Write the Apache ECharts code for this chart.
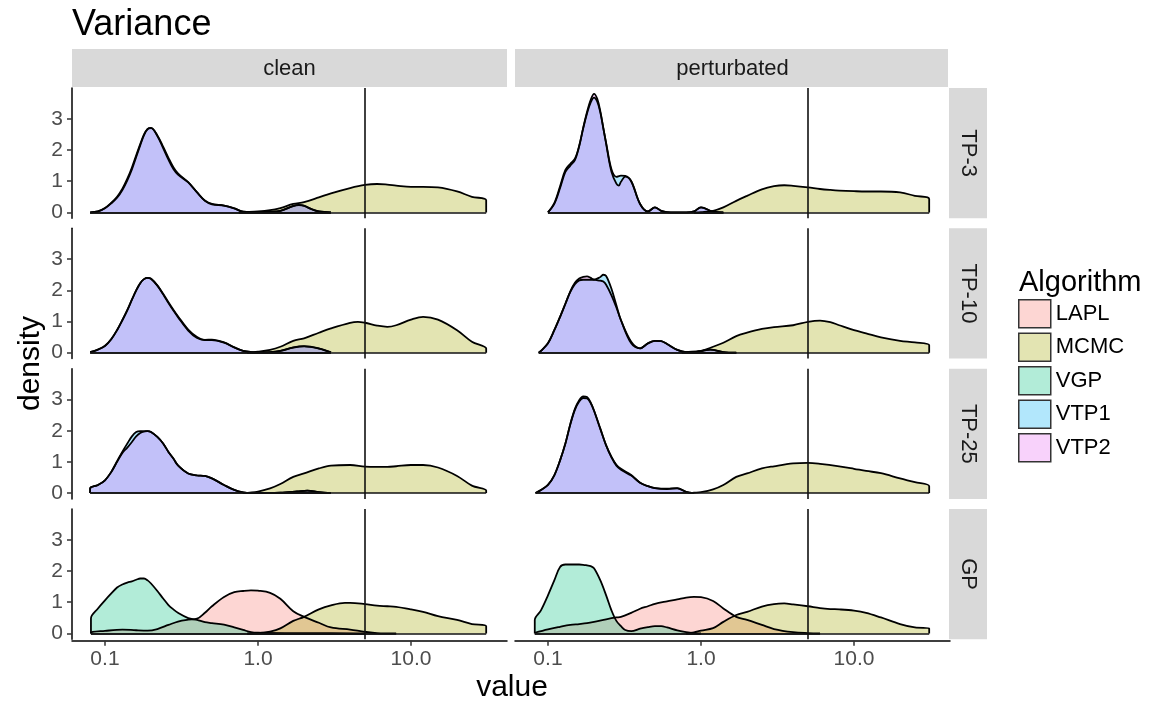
<!DOCTYPE html>
<html><head><meta charset="utf-8">
<script src="https://cdn.jsdelivr.net/npm/echarts@6/dist/echarts.min.js"></script>
<style>html,body{margin:0;padding:0;background:#fff}#c{width:1157px;height:706px}</style>
</head><body><div id="c"></div>
<script>
// ---------------- data ----------------
const rows = ['TP-3', 'TP-10', 'TP-25', 'GP'];
const cols = ['clean', 'perturbated'];
const algorithms = ['LAPL', 'MCMC', 'VGP', 'VTP1', 'VTP2'];
const algColors = { LAPL: '#F8766D', MCMC: '#A3A500', VGP: '#00BF7D', VTP1: '#00B0F6', VTP2: '#E76BF3' };
const xTicks = [0.1, 1, 10];
const yTicks = [0, 1, 2, 3];
const trueVariance = 5;

// TP-3
const TP3_clean_MCMC = [[0.75,0],[0.8,0.01],[1,0.03],[1.2,0.07],[1.4,0.14],[1.7,0.27],[2,0.33],[2.5,0.48],[3,0.61],[4,0.78],[5,0.88],[6,0.91],[7,0.89],[8,0.86],[10,0.82],[12,0.82],[15,0.80],[20,0.67],[25,0.50],[31,0.39]];
const TP3_clean_VTP1 = [[0.08,0],[0.09,0.03],[0.1,0.13],[0.11,0.29],[0.12,0.47],[0.13,0.72],[0.14,1.03],[0.15,1.38],[0.16,1.78],[0.17,2.15],[0.18,2.48],[0.19,2.67],[0.2,2.70],[0.22,2.47],[0.24,2.11],[0.26,1.75],[0.28,1.45],[0.3,1.25],[0.35,0.97],[0.4,0.64],[0.45,0.37],[0.5,0.26],[0.6,0.22],[0.7,0.13],[0.8,0.02],[0.9,0.01],[1,0.01],[1.2,0.02],[1.4,0.05],[1.7,0.21],[1.85,0.24],[2,0.22],[2.2,0.12],[2.5,0.03],[3,0]];
const TP3_clean_VTP2 = [[0.08,0],[0.09,0.03],[0.1,0.14],[0.11,0.31],[0.12,0.50],[0.13,0.76],[0.14,1.08],[0.15,1.44],[0.16,1.83],[0.17,2.19],[0.18,2.50],[0.19,2.68],[0.2,2.71],[0.22,2.45],[0.24,2.06],[0.26,1.69],[0.28,1.39],[0.3,1.21],[0.35,0.96],[0.4,0.64],[0.45,0.38],[0.5,0.27],[0.6,0.22],[0.7,0.13],[0.8,0.02],[0.9,0.01],[1,0.01],[1.2,0.02],[1.4,0.05],[1.7,0.20],[1.85,0.23],[2,0.21],[2.2,0.12],[2.5,0.03],[3,0]];
const TP3_pert_MCMC = [[0.9,0],[1,0.01],[1.2,0.05],[1.4,0.16],[1.7,0.37],[2,0.53],[2.5,0.74],[3,0.84],[3.5,0.87],[4,0.85],[5,0.80],[6,0.75],[7,0.72],[8,0.70],[10,0.68],[12,0.67],[15,0.67],[20,0.64],[25,0.53],[31,0.43]];
const TP3_pert_VTP1 = [[0.1,0],[0.11,0.27],[0.12,0.78],[0.13,1.30],[0.14,1.50],[0.15,1.68],[0.16,2.12],[0.17,2.70],[0.18,3.17],[0.19,3.52],[0.2,3.68],[0.21,3.55],[0.22,3.20],[0.23,2.70],[0.24,2.23],[0.26,1.38],[0.28,1.14],[0.3,1.18],[0.32,1.17],[0.35,1.0],[0.4,0.27],[0.45,0.03],[0.5,0.16],[0.55,0.05],[0.6,0.01],[0.8,0],[0.9,0.03],[1,0.16],[1.2,0.02],[1.4,0]];
const TP3_pert_VTP2 = [[0.1,0],[0.11,0.30],[0.12,0.84],[0.13,1.36],[0.14,1.56],[0.15,1.72],[0.16,2.14],[0.17,2.72],[0.18,3.22],[0.19,3.60],[0.2,3.80],[0.21,3.64],[0.22,3.24],[0.23,2.71],[0.24,2.20],[0.26,1.30],[0.28,0.92],[0.29,0.86],[0.3,0.98],[0.32,1.15],[0.35,1.0],[0.4,0.27],[0.45,0.03],[0.5,0.16],[0.55,0.05],[0.6,0.01],[0.8,0],[0.9,0.03],[1,0.16],[1.2,0.02],[1.4,0]];

// TP-10
const TP10_clean_MCMC = [[0.85,0],[1,0.03],[1.2,0.09],[1.4,0.19],[1.7,0.38],[2,0.46],[2.5,0.64],[3,0.78],[4,0.96],[4.5,0.99],[5,0.96],[6,0.87],[7,0.83],[8,0.88],[10,1.06],[12,1.15],[15,1.06],[20,0.72],[25,0.35],[31,0.13]];
const TP10_clean_VTP1 = [[0.08,0.02],[0.09,0.1],[0.1,0.21],[0.11,0.43],[0.12,0.72],[0.13,1.04],[0.14,1.36],[0.15,1.70],[0.16,2.0],[0.17,2.23],[0.18,2.36],[0.19,2.40],[0.2,2.37],[0.22,2.16],[0.24,1.89],[0.26,1.62],[0.28,1.38],[0.3,1.17],[0.35,0.74],[0.4,0.50],[0.45,0.40],[0.5,0.40],[0.6,0.32],[0.7,0.17],[0.8,0.06],[0.9,0.02],[1,0.01],[1.2,0.02],[1.4,0.06],[1.7,0.17],[2,0.21],[2.5,0.14],[3,0.01]];
const TP10_clean_VTP2 = [[0.08,0.02],[0.09,0.1],[0.1,0.22],[0.11,0.44],[0.12,0.73],[0.13,1.05],[0.14,1.37],[0.15,1.70],[0.16,2.0],[0.17,2.23],[0.18,2.36],[0.19,2.40],[0.2,2.37],[0.22,2.15],[0.24,1.87],[0.26,1.59],[0.28,1.35],[0.3,1.14],[0.35,0.71],[0.4,0.47],[0.45,0.41],[0.5,0.42],[0.6,0.33],[0.7,0.17],[0.8,0.06],[0.9,0.02],[1,0.01],[1.2,0.02],[1.4,0.06],[1.7,0.16],[2,0.20],[2.5,0.13],[3,0.01]];
const TP10_pert_MCMC = [[0.75,0],[0.8,0.02],[1,0.06],[1.2,0.19],[1.4,0.32],[1.7,0.53],[2,0.64],[2.5,0.76],[3,0.82],[4,0.88],[5,0.99],[6,1.03],[7,0.98],[8,0.88],[10,0.72],[12,0.62],[15,0.49],[20,0.38],[25,0.33],[31,0.24]];
const TP10_pert_VTP1 = [[0.087,0],[0.09,0.06],[0.1,0.30],[0.11,0.72],[0.12,1.15],[0.13,1.57],[0.14,1.95],[0.15,2.20],[0.16,2.32],[0.17,2.34],[0.18,2.34],[0.2,2.34],[0.22,2.43],[0.23,2.50],[0.24,2.46],[0.26,2.05],[0.28,1.52],[0.3,1.04],[0.35,0.35],[0.4,0.14],[0.45,0.30],[0.5,0.38],[0.55,0.37],[0.6,0.28],[0.7,0.09],[0.8,0.02],[0.9,0.02],[1,0.05],[1.15,0.10],[1.4,0.02],[1.7,0]];
const TP10_pert_VTP2 = [[0.087,0],[0.09,0.06],[0.1,0.30],[0.11,0.72],[0.12,1.15],[0.13,1.57],[0.14,1.97],[0.15,2.24],[0.16,2.38],[0.17,2.43],[0.18,2.45],[0.19,2.40],[0.2,2.34],[0.22,2.31],[0.23,2.28],[0.24,2.18],[0.26,1.84],[0.28,1.45],[0.3,1.04],[0.35,0.30],[0.4,0.14],[0.45,0.30],[0.5,0.38],[0.55,0.37],[0.6,0.28],[0.7,0.09],[0.8,0.02],[0.9,0.02],[1,0.05],[1.15,0.10],[1.4,0.02],[1.7,0]];

// TP-25
const TP25_clean_MCMC = [[0.8,0],[1,0.05],[1.2,0.15],[1.4,0.29],[1.7,0.52],[2,0.63],[2.5,0.79],[3,0.88],[4,0.90],[5,0.85],[6,0.84],[7,0.84],[8,0.86],[10,0.90],[12,0.90],[15,0.82],[20,0.55],[25,0.24],[31,0.08]];
const TP25_clean_VTP1 = [[0.08,0.15],[0.09,0.26],[0.1,0.41],[0.11,0.68],[0.12,1.02],[0.13,1.33],[0.14,1.59],[0.15,1.82],[0.16,1.96],[0.17,1.99],[0.18,1.98],[0.19,1.99],[0.2,1.96],[0.22,1.80],[0.24,1.59],[0.26,1.32],[0.28,1.11],[0.3,0.89],[0.35,0.63],[0.4,0.57],[0.45,0.55],[0.5,0.47],[0.6,0.26],[0.7,0.10],[0.8,0.02],[0.9,0],[1.4,0.01],[1.8,0.05],[2.1,0.08],[2.5,0.03],[3,0]];
const TP25_clean_VTP2 = [[0.08,0.15],[0.09,0.26],[0.1,0.41],[0.11,0.68],[0.12,1.0],[0.13,1.29],[0.14,1.46],[0.15,1.64],[0.16,1.82],[0.17,1.93],[0.18,1.98],[0.19,1.99],[0.2,1.96],[0.22,1.80],[0.24,1.59],[0.26,1.32],[0.28,1.11],[0.3,0.89],[0.35,0.63],[0.4,0.57],[0.45,0.55],[0.5,0.47],[0.6,0.26],[0.7,0.10],[0.8,0.02],[0.9,0],[1.4,0.01],[1.8,0.05],[2.1,0.08],[2.5,0.03],[3,0]];
const TP25_pert_MCMC = [[0.85,0],[0.9,0.01],[1,0.03],[1.2,0.12],[1.4,0.26],[1.7,0.52],[2,0.63],[2.5,0.79],[3,0.86],[4,0.95],[5,0.97],[6,0.94],[8,0.86],[10,0.78],[12,0.71],[15,0.64],[20,0.47],[25,0.35],[31,0.22]];
const TP25_pert_VTP1 = [[0.083,0],[0.09,0.10],[0.1,0.26],[0.11,0.57],[0.12,1.05],[0.13,1.59],[0.14,2.22],[0.15,2.70],[0.16,2.98],[0.17,3.10],[0.18,3.08],[0.19,2.91],[0.2,2.65],[0.22,2.06],[0.24,1.53],[0.26,1.16],[0.28,0.91],[0.3,0.78],[0.35,0.58],[0.4,0.33],[0.45,0.22],[0.5,0.16],[0.6,0.13],[0.7,0.15],[0.8,0.04],[0.9,0]];
const TP25_pert_VTP2 = [[0.083,0],[0.09,0.10],[0.1,0.26],[0.11,0.57],[0.12,1.05],[0.13,1.59],[0.14,2.20],[0.15,2.67],[0.16,2.94],[0.17,3.05],[0.18,3.04],[0.19,2.89],[0.2,2.64],[0.22,2.06],[0.24,1.53],[0.26,1.15],[0.28,0.88],[0.3,0.75],[0.35,0.56],[0.4,0.33],[0.45,0.22],[0.5,0.16],[0.6,0.14],[0.7,0.16],[0.8,0.04],[0.9,0]];

// GP
const GP_clean_LAPL = [[0.081,0.03],[0.1,0.08],[0.13,0.12],[0.16,0.10],[0.19,0.09],[0.22,0.14],[0.26,0.27],[0.3,0.38],[0.35,0.44],[0.4,0.47],[0.45,0.66],[0.5,0.87],[0.6,1.17],[0.7,1.32],[0.8,1.36],[0.9,1.38],[1,1.37],[1.2,1.30],[1.4,1.11],[1.7,0.71],[2,0.53],[2.5,0.34],[3,0.19],[4,0.12],[5,0.05],[6,0.01],[8,0]];
const GP_clean_MCMC = [[0.85,0],[1,0.01],[1.2,0.06],[1.4,0.16],[1.7,0.40],[2,0.53],[2.5,0.77],[3,0.90],[3.7,0.98],[4,0.98],[5,0.94],[6,0.89],[7,0.87],[8,0.85],[10,0.77],[12,0.69],[15,0.55],[20,0.43],[25,0.30],[31,0.23]];
const GP_clean_VGP = [[0.081,0.48],[0.09,0.80],[0.1,1.06],[0.11,1.28],[0.12,1.47],[0.13,1.57],[0.14,1.63],[0.15,1.67],[0.16,1.72],[0.17,1.76],[0.18,1.76],[0.19,1.70],[0.2,1.60],[0.22,1.36],[0.24,1.12],[0.26,0.91],[0.28,0.77],[0.3,0.66],[0.35,0.49],[0.4,0.43],[0.45,0.36],[0.5,0.33],[0.6,0.28],[0.7,0.19],[0.8,0.11],[0.9,0.04],[1,0.02],[1.5,0.01],[3,0.01],[5,0]];
const GP_pert_LAPL = [[0.082,0.02],[0.1,0.13],[0.12,0.21],[0.14,0.27],[0.16,0.30],[0.18,0.33],[0.2,0.37],[0.24,0.45],[0.28,0.51],[0.3,0.53],[0.35,0.66],[0.4,0.79],[0.45,0.87],[0.5,0.95],[0.6,1.03],[0.7,1.09],[0.8,1.15],[0.9,1.17],[1,1.16],[1.2,1.04],[1.4,0.80],[1.7,0.53],[2,0.43],[2.5,0.27],[3,0.14],[4,0.04],[5,0.01],[6,0]];
const GP_pert_MCMC = [[0.8,0],[0.9,0.03],[1,0.09],[1.2,0.17],[1.4,0.37],[1.7,0.59],[2,0.69],[2.5,0.86],[3,0.94],[3.5,0.96],[4,0.93],[5,0.87],[6,0.81],[7,0.78],[8,0.77],[10,0.73],[12,0.66],[15,0.51],[20,0.30],[25,0.19],[31,0.16]];
const GP_pert_VGP = [[0.082,0.43],[0.09,0.74],[0.1,1.22],[0.11,1.70],[0.12,2.13],[0.13,2.21],[0.14,2.21],[0.15,2.21],[0.16,2.21],[0.17,2.20],[0.18,2.18],[0.19,2.16],[0.2,2.09],[0.22,1.70],[0.24,1.22],[0.26,0.74],[0.28,0.40],[0.3,0.23],[0.32,0.11],[0.35,0.07],[0.4,0.15],[0.45,0.20],[0.5,0.23],[0.55,0.23],[0.6,0.19],[0.7,0.10],[0.8,0.04],[0.9,0.01],[1,0]];

// table the library needs: panel -> algorithm -> series
const panelData = {
  'TP-3':  { clean: { MCMC: TP3_clean_MCMC, VTP1: TP3_clean_VTP1, VTP2: TP3_clean_VTP2 },
             perturbated: { MCMC: TP3_pert_MCMC, VTP1: TP3_pert_VTP1, VTP2: TP3_pert_VTP2 } },
  'TP-10': { clean: { MCMC: TP10_clean_MCMC, VTP1: TP10_clean_VTP1, VTP2: TP10_clean_VTP2 },
             perturbated: { MCMC: TP10_pert_MCMC, VTP1: TP10_pert_VTP1, VTP2: TP10_pert_VTP2 } },
  'TP-25': { clean: { MCMC: TP25_clean_MCMC, VTP1: TP25_clean_VTP1, VTP2: TP25_clean_VTP2 },
             perturbated: { MCMC: TP25_pert_MCMC, VTP1: TP25_pert_VTP1, VTP2: TP25_pert_VTP2 } },
  'GP':    { clean: { LAPL: GP_clean_LAPL, MCMC: GP_clean_MCMC, VGP: GP_clean_VGP },
             perturbated: { LAPL: GP_pert_LAPL, MCMC: GP_pert_MCMC, VGP: GP_pert_VGP } }
};

// ---------------- layout & style ----------------
const FONT = '"Liberation Sans", Arial, Helvetica, sans-serif';
const colLeft = [72, 515];
const panelW = 435;
const rowTop = [88, 228.3, 368.7, 509];
const panelH = 130.3;
const xMin = 0.0609, xMax = 42.4;
const yMin = -0.19, yMax = 3.99;
const ALPHA = 0.3;

function rgba(hex, a) {
  const n = parseInt(hex.slice(1), 16);
  return 'rgba(' + ((n >> 16) & 255) + ',' + ((n >> 8) & 255) + ',' + (n & 255) + ',' + a + ')';
}

const grids = [], xAxes = [], yAxes = [], series = [], graphics = [];

rows.forEach((rowName, r) => {
  cols.forEach((colName, c) => {
    const k = grids.length;
    grids.push({ left: colLeft[c], top: rowTop[r], width: panelW, height: panelH, containLabel: false });
    xAxes.push({
      type: 'log', logBase: 10, gridIndex: k, min: xMin, max: xMax,
      show: r === rows.length - 1, offset: 1.5,
      axisLine: { show: true, onZero: false, lineStyle: { color: '#000', width: 1.5 } },
      axisTick: { show: true, customValues: xTicks, length: 5, lineStyle: { color: '#333', width: 1.5 } },
      axisLabel: { show: true, customValues: xTicks, formatter: v => Number(v).toFixed(1),
        fontSize: 21, color: '#4d4d4d', fontFamily: FONT, margin: 8 },
      splitLine: { show: false }, minorTick: { show: false }
    });
    yAxes.push({
      type: 'value', gridIndex: k, min: yMin, max: yMax,
      show: c === 0,
      axisLine: { show: true, onZero: false, lineStyle: { color: '#000', width: 1.5 } },
      axisTick: { show: true, customValues: yTicks, length: 5, lineStyle: { color: '#333', width: 1.5 } },
      axisLabel: { show: true, customValues: yTicks, fontSize: 21, color: '#4d4d4d', fontFamily: FONT, margin: 9 },
      splitLine: { show: false }
    });
    const pd = panelData[rowName][colName];
    algorithms.forEach((alg) => {
      const raw = pd[alg];
      if (!raw) return;
      const pts = raw.slice();
      const first = pts[0], last = pts[pts.length - 1];
      if (first[1] > 0.02) pts.unshift([first[0], 0]);
      if (last[1] > 0.02) pts.push([last[0], 0]);
      const mlData = [[{ coord: [first[0], 0] }, { coord: [last[0], 0] }]];
      if (alg === 'MCMC') mlData.push({ xAxis: trueVariance });
      series.push({
        type: 'line', name: alg, xAxisIndex: k, yAxisIndex: k,
        data: pts, smooth: 0.35, symbol: 'none', showSymbol: false, silent: true,
        z: 2,
        itemStyle: { color: rgba(algColors[alg], ALPHA) },
        lineStyle: { color: '#000', width: 1.8 },
        areaStyle: { color: rgba(algColors[alg], ALPHA), opacity: 1, origin: 'auto' },
        emphasis: { disabled: true },
        markLine: {
          silent: true, symbol: ['none', 'none'], animation: false,
          label: { show: false },
          lineStyle: { color: '#111', width: 1.6, type: 'solid' },
          emphasis: { disabled: true },
          data: mlData
        }
      });
    });
  });
});

// strips (column facets)
cols.forEach((colName, c) => {
  graphics.push({ type: 'rect', silent: true, shape: { x: colLeft[c], y: 49, width: panelW - (c === 1 ? 2 : 0), height: 38 }, style: { fill: '#d9d9d9' } });
  graphics.push({ type: 'text', silent: true, x: colLeft[c] + panelW / 2, y: 68.5,
    style: { text: colName, fill: '#1a1a1a', fontSize: 22, fontFamily: FONT, align: 'center', verticalAlign: 'middle' } });
});
// strips (row facets)
rows.forEach((rowName, r) => {
  graphics.push({ type: 'rect', silent: true, shape: { x: 949, y: rowTop[r], width: 38, height: panelH }, style: { fill: '#d9d9d9' } });
  graphics.push({ type: 'text', silent: true, x: 968, y: rowTop[r] + panelH / 2, rotation: -Math.PI / 2,
    style: { text: rowName, fill: '#1a1a1a', fontSize: 22, fontFamily: FONT, align: 'center', verticalAlign: 'middle' } });
});
// titles
graphics.push({ type: 'text', silent: true, x: 72, y: 25,
  style: { text: 'Variance', fill: '#000', fontSize: 36, fontFamily: FONT, align: 'left', verticalAlign: 'middle' } });
graphics.push({ type: 'text', silent: true, x: 512, y: 688,
  style: { text: 'value', fill: '#000', fontSize: 30, fontFamily: FONT, align: 'center', verticalAlign: 'middle' } });
graphics.push({ type: 'text', silent: true, x: 31, y: 363.5, rotation: Math.PI / 2,
  style: { text: 'density', fill: '#000', fontSize: 30, fontFamily: FONT, align: 'center', verticalAlign: 'middle' } });
graphics.push({ type: 'text', silent: true, x: 1019, y: 283,
  style: { text: 'Algorithm', fill: '#000', fontSize: 29, fontFamily: FONT, align: 'left', verticalAlign: 'middle' } });

const chart = echarts.init(document.getElementById('c'), null, { renderer: 'canvas' });
chart.setOption({
  animation: false,
  backgroundColor: '#fff',
  grid: grids,
  xAxis: xAxes,
  yAxis: yAxes,
  series: series,
  legend: {
    orient: 'vertical', left: 1018, top: 299, padding: 0,
    itemWidth: 32, itemHeight: 28, itemGap: 4, icon: 'rect', selectedMode: false,
    textStyle: { fontSize: 22, color: '#000', fontFamily: FONT },
    itemStyle: { borderColor: '#333', borderWidth: 1.5 },
    data: algorithms.map(a => ({ name: a, icon: 'rect',
      itemStyle: { color: rgba(algColors[a], ALPHA), borderColor: '#333', borderWidth: 1.5 } }))
  },
  graphic: graphics
});
</script>
</body></html>
